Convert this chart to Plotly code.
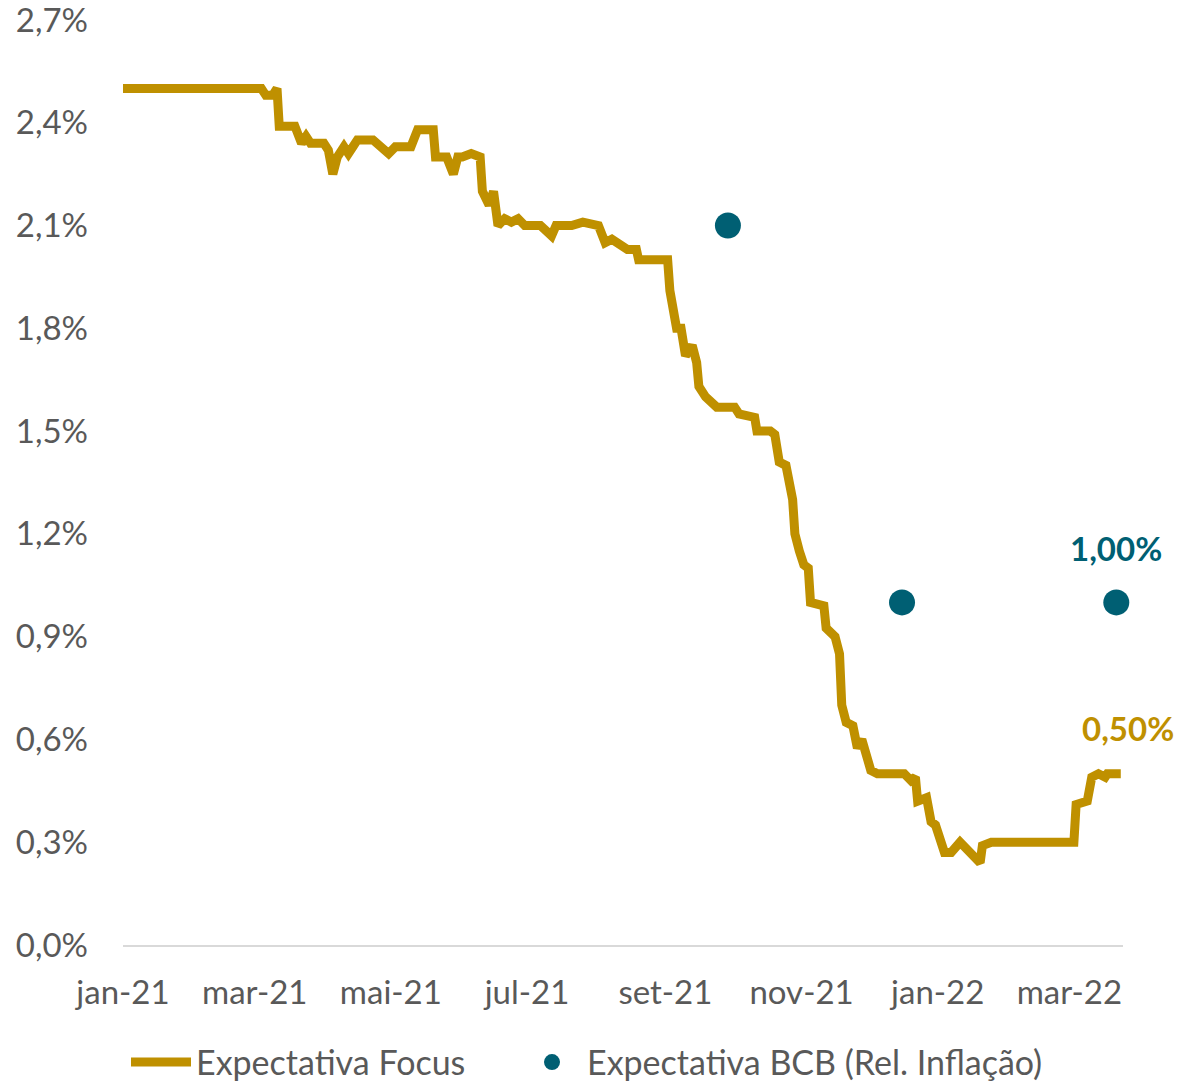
import plotly.graph_objects as go

# Focus survey: market expectation for GDP growth in 2022 (% a.a.)
focus_dates = [
    "2021-01-01", "2021-03-04", "2021-03-06", "2021-03-09", "2021-03-11", "2021-03-12",
    "2021-03-19", "2021-03-22", "2021-03-24", "2021-03-26", "2021-04-01", "2021-04-03",
    "2021-04-05", "2021-04-07", "2021-04-10", "2021-04-12", "2021-04-14", "2021-04-16",
    "2021-04-23", "2021-04-26", "2021-04-30", "2021-05-03", "2021-05-06", "2021-05-10",
    "2021-05-13", "2021-05-20", "2021-05-21", "2021-05-26", "2021-05-29", "2021-05-31",
    "2021-06-02", "2021-06-06", "2021-06-10", "2021-06-11", "2021-06-14", "2021-06-15",
    "2021-06-16", "2021-06-18", "2021-06-21", "2021-06-24", "2021-06-27", "2021-06-30",
    "2021-07-07", "2021-07-12", "2021-07-14", "2021-07-21", "2021-07-26", "2021-08-02",
    "2021-08-05", "2021-08-08", "2021-08-12", "2021-08-15", "2021-08-19", "2021-08-20",
    "2021-09-02", "2021-09-03", "2021-09-06", "2021-09-08", "2021-09-10", "2021-09-13",
    "2021-09-15", "2021-09-16", "2021-09-19", "2021-09-22", "2021-09-24", "2021-10-02",
    "2021-10-04", "2021-10-11", "2021-10-12", "2021-10-18", "2021-10-20", "2021-10-22",
    "2021-10-25", "2021-10-28", "2021-10-29", "2021-10-31", "2021-11-02", "2021-11-04",
    "2021-11-05", "2021-11-11", "2021-11-12", "2021-11-16", "2021-11-18", "2021-11-19",
    "2021-11-21", "2021-11-24", "2021-11-26", "2021-11-28", "2021-11-30", "2021-12-02",
    "2021-12-05", "2021-12-17", "2021-12-20", "2021-12-22", "2021-12-23", "2021-12-27",
    "2021-12-29", "2021-12-31", "2022-01-04", "2022-01-07", "2022-01-11", "2022-01-15",
    "2022-01-17", "2022-01-20", "2022-01-21", "2022-01-25", "2022-02-18", "2022-03-03",
    "2022-03-04", "2022-03-09", "2022-03-11", "2022-03-14", "2022-03-17", "2022-03-18",
    "2022-03-24",
]
focus_values = [
    2.50, 2.50, 2.48, 2.48, 2.50, 2.39,
    2.39, 2.34, 2.36, 2.34, 2.34, 2.32,
    2.25, 2.30, 2.33, 2.31, 2.33, 2.35,
    2.35, 2.33, 2.31, 2.33, 2.33, 2.33,
    2.38, 2.38, 2.30, 2.30, 2.25, 2.30,
    2.30, 2.31, 2.30, 2.20, 2.16, 2.20,
    2.20, 2.10, 2.12, 2.11, 2.12, 2.10,
    2.10, 2.07, 2.10, 2.10, 2.11, 2.10,
    2.05, 2.06, 2.04, 2.03, 2.03, 2.00,
    2.00, 1.91, 1.80, 1.80, 1.72, 1.75,
    1.70, 1.63, 1.60, 1.585, 1.57, 1.57,
    1.55, 1.54, 1.50, 1.50, 1.49, 1.41,
    1.40, 1.30, 1.20, 1.15, 1.11, 1.10,
    1.00, 0.99, 0.925, 0.90, 0.85, 0.70,
    0.65, 0.64, 0.575, 0.60, 0.55, 0.51,
    0.50, 0.50, 0.48, 0.49, 0.42, 0.43,
    0.36, 0.35, 0.27, 0.27, 0.30, 0.27,
    0.26, 0.24, 0.29, 0.30, 0.30, 0.30,
    0.41, 0.42, 0.49, 0.50, 0.49, 0.50,
    0.50,
]

# BCB projections published in the Relatório de Inflação
bcb_dates = ["2021-09-29", "2021-12-16", "2022-03-22"]
bcb_values = [2.10, 1.00, 1.00]

tick_dates = ["2021-01-01", "2021-03-01", "2021-05-01", "2021-07-01",
              "2021-09-01", "2021-11-01", "2022-01-01", "2022-03-01"]
tick_labels = ["jan-21", "mar-21", "mai-21", "jul-21",
               "set-21", "nov-21", "jan-22", "mar-22"]

y_ticks = [0.0, 0.3, 0.6, 0.9, 1.2, 1.5, 1.8, 2.1, 2.4, 2.7]
y_tick_labels = [f"{v:.1f}%".replace(".", ",") for v in y_ticks]

GOLD = "#BF9000"
TEAL = "#005F73"
GREY_TEXT = "#595959"
FONT = "Lato"
TICK_SIZE = 33
LEGEND_SIZE = 34

fig = go.Figure()
fig.add_trace(go.Scatter(
    x=focus_dates, y=focus_values, mode="lines", name="Expectativa Focus",
    line=dict(color=GOLD, width=9), cliponaxis=False, legend="legend",
))
fig.add_trace(go.Scatter(
    x=bcb_dates, y=bcb_values, mode="markers", name="Expectativa BCB (Rel. Inflação)",
    marker=dict(color=TEAL, size=26), cliponaxis=False, legend="legend2",
))

# value labels for the latest observations
fig.add_annotation(
    x=bcb_dates[-1], y=bcb_values[-1], text=f"<b>{bcb_values[-1]:.2f}%</b>".replace(".", ","),
    showarrow=False, yshift=54, xshift=0, font=dict(family=FONT, size=TICK_SIZE, color=TEAL),
)
fig.add_annotation(
    x=focus_dates[-1], y=focus_values[-1], text=f"<b>{focus_values[-1]:.2f}%</b>".replace(".", ","),
    showarrow=False, yshift=46, xshift=7, font=dict(family=FONT, size=TICK_SIZE, color=GOLD),
)

legend_common = dict(
    orientation="h", xanchor="left", y=-0.127, yanchor="middle",
    font=dict(family=FONT, size=LEGEND_SIZE, color=GREY_TEXT),
    itemwidth=60, bgcolor="rgba(0,0,0,0)",
)

fig.update_layout(
    width=1178, height=1083,
    margin=dict(l=123, r=55, t=20, b=138, autoexpand=False),
    paper_bgcolor="white", plot_bgcolor="white",
    font=dict(family=FONT, size=TICK_SIZE, color=GREY_TEXT),
    showlegend=True,
    legend=dict(x=0.003, **legend_common),
    legend2=dict(x=0.394, **legend_common),
    xaxis=dict(
        type="date", range=["2021-01-01", "2022-03-25"],
        tickvals=tick_dates, ticktext=tick_labels,
        showgrid=False, zeroline=False,
        showline=True, linecolor="#D9D9D9", linewidth=2,
        ticks="", ticklabelstandoff=17, ticklabeloverflow="allow",
        tickfont=dict(family=FONT, size=TICK_SIZE, color=GREY_TEXT),
    ),
    yaxis=dict(
        range=[0, 2.7], tickvals=y_ticks, ticktext=y_tick_labels,
        showgrid=False, zeroline=False, showline=False,
        ticks="", ticklabelstandoff=34, ticklabeloverflow="allow",
        tickfont=dict(family=FONT, size=TICK_SIZE, color=GREY_TEXT),
    ),
)

fig.write_html("out.html")
